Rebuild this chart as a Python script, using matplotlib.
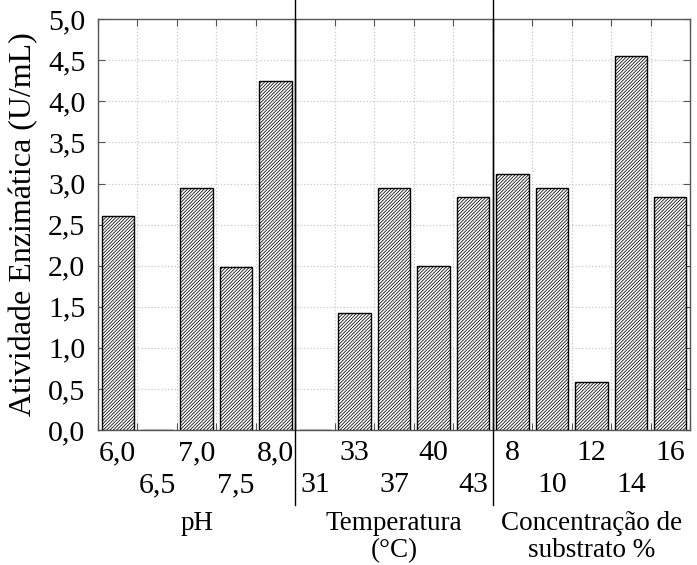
import matplotlib.pyplot as plt
from matplotlib.transforms import blended_transform_factory

plt.rcParams['font.family'] = ['Liberation Serif', 'DejaVu Serif']
plt.rcParams['hatch.linewidth'] = 0.55

groups = ['pH', 'Temperatura\n(°C)', 'Concentração de\nsubstrato %']
ph_labels = ['6,0', '6,5', '7,0', '7,5', '8,0']
ph_values = [2.61, 0.0, 2.94, 1.98, 4.25]
temp_labels = ['31', '33', '37', '40', '43']
temp_values = [0.0, 1.42, 2.94, 1.99, 2.83]
conc_labels = ['8', '10', '12', '14', '16']
conc_values = [3.12, 2.94, 0.58, 4.55, 2.83]

labels = ph_labels + temp_labels + conc_labels
values = ph_values + temp_values + conc_values
# which row each tick label sits on (0 = upper, 1 = lower)
rows = [0, 1, 0, 1, 0, 1, 0, 1, 0, 1, 0, 1, 0, 1, 0]

fig = plt.figure(figsize=(6.97, 5.65), dpi=100)
ax = fig.add_axes([0.1406, 0.239, 0.8494, 0.727])

xs = [i + 0.5 for i in range(len(values))]
ax.bar(xs, values, width=0.82, facecolor='white', edgecolor='black',
       linewidth=1.0, hatch='//////////', zorder=3)

ax.set_xlim(0, 15)
ax.set_ylim(0, 5.0)
yt = [i * 0.5 for i in range(11)]
ax.set_yticks(yt)
ax.set_yticklabels([f'{v:.1f}'.replace('.', ',') for v in yt], fontsize=21.5)
ax.set_xticks(range(16))
ax.set_xticklabels([])
ax.tick_params(axis='x', length=0)
ax.tick_params(axis='y', direction='in', length=5, right=True, pad=9,
               color='#555555')
ax.tick_params(axis='x', which='both', top=True, direction='in', length=5,
               color='#555555')

for x in range(1, 15):
    if x in (5, 10):
        continue
    ax.axvline(x, color='#c8c8c8', linestyle=':', linewidth=0.9, zorder=1)
for y in yt[1:-1]:
    ax.axhline(y, color='#c8c8c8', linestyle=':', linewidth=0.9, zorder=1)

for s in ax.spines.values():
    s.set_color('#555555')
    s.set_linewidth(1.0)

ax.set_ylabel('Atividade Enzimática (U/mL)', fontsize=23, labelpad=7)

trans = blended_transform_factory(ax.transData, fig.transFigure)
for x, lab, r in zip(xs, labels, rows):
    y = 1 - 453 / 565 if r == 0 else 1 - 485 / 565
    ax.text(x, y, lab, transform=trans, ha='center', va='center', fontsize=21.5)

for k, g in enumerate(groups):
    ax.text(5 * k + 2.5, 1 - 511 / 565, g, transform=trans, ha='center', va='top',
            fontsize=19.5, linespacing=1.12)

for x in (5, 10):
    ax.plot([x, x], [1, 1 - 505 / 565], transform=trans, color='black',
            linewidth=1.0, clip_on=False, zorder=4)
    ax.axvline(x, color='black', linewidth=1.0, zorder=4)

fig.savefig('out.png', dpi=100)
